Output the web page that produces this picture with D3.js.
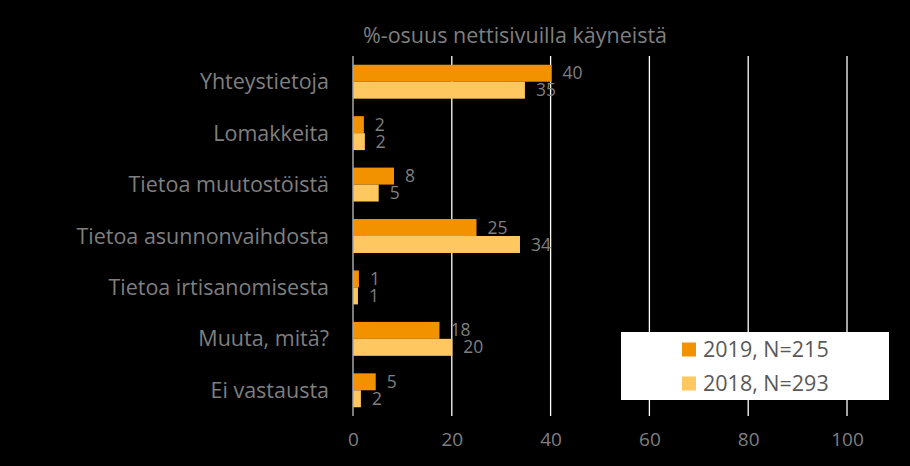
<!DOCTYPE html>
<html><head><meta charset="utf-8">
<script src="https://cdn.jsdelivr.net/npm/d3@7"></script>
<style>html,body{margin:0;padding:0;background:#000;}svg{display:block;}</style>
</head><body>
<svg id="chart" width="910" height="466"></svg>
<script>
const categories = ["Yhteystietoja","Lomakkeita","Tietoa muutostöistä","Tietoa asunnonvaihdosta","Tietoa irtisanomisesta","Muuta, mitä?","Ei vastausta"];
const series2019 = [40.2, 2.2, 8.3, 25.0, 1.2, 17.5, 4.6];
const series2018 = [34.8, 2.4, 5.2, 33.8, 1.0, 20.1, 1.6];
const seriesNames = ["2019, N=215", "2018, N=293"];
const xTicks = [0, 20, 40, 60, 80, 100];
const title = "%-osuus nettisivuilla käyneistä";

const colors = ["#F39200", "#FFC75F"];
const textColor = "#7f7f7f";
const font = "'Open Sans', sans-serif";

const svg = d3.select("#chart");
svg.append("rect").attr("width", 910).attr("height", 466).attr("fill", "#000");

const x = d3.scaleLinear().domain([0, 100]).range([353, 847]);
const y = d3.scaleBand().domain(categories).range([56, 416]).paddingInner(0.34).paddingOuter(0.17);
const sub = d3.scaleBand().domain([0, 1]).range([0, y.bandwidth()]);

// gridlines
svg.append("g").selectAll("line").data(xTicks.filter(t => t > 0)).join("line")
  .attr("x1", d => x(d)).attr("x2", d => x(d))
  .attr("y1", 56).attr("y2", 416)
  .attr("stroke", "#ffffff").attr("stroke-width", 1.3);

const seriesData = [series2019, series2018];
const groups = svg.append("g");
seriesData.forEach((vals, si) => {
  groups.append("g").selectAll("rect").data(vals).join("rect")
    .attr("x", x(0))
    .attr("y", (d, i) => y(categories[i]) + sub(si))
    .attr("width", d => x(d) - x(0))
    .attr("height", sub.bandwidth())
    .attr("fill", colors[si]);
  groups.append("g").selectAll("text").data(vals).join("text")
    .attr("x", d => x(d) + 11)
    .attr("y", (d, i) => y(categories[i]) + sub(si) + sub.bandwidth() / 2)
    .attr("dy", "0.35em")
    .attr("fill", textColor)
    .style("font-family", font).style("font-size", "17.5px")
    .text(d => d3.format(".0f")(d));
});

// zero axis line
svg.append("line").attr("x1", x(0)).attr("x2", x(0)).attr("y1", 56).attr("y2", 416)
  .attr("stroke", "#a6a6a6").attr("stroke-width", 1.5);

// category labels
svg.append("g").selectAll("text").data(categories).join("text")
  .attr("x", 329)
  .attr("y", d => y(d) + y.bandwidth() / 2)
  .attr("dy", "0.35em")
  .attr("text-anchor", "end")
  .attr("fill", textColor)
  .style("font-family", font).style("font-size", "21.5px")
  .text(d => d);

// x axis
const xAxis = d3.axisBottom(x).tickValues(xTicks).tickSize(0).tickPadding(0);
const ax = svg.append("g").attr("transform", "translate(0,432)").call(xAxis);
ax.select(".domain").remove();
ax.selectAll("text").attr("fill", textColor).style("font-family", font).style("font-size", "19px").attr("dy", "0.71em");

// title
svg.append("text").attr("x", 515).attr("y", 43).attr("text-anchor", "middle")
  .attr("fill", textColor).style("font-family", font).style("font-size", "21.5px")
  .text(title);

// legend
const lg = svg.append("g");
lg.append("rect").attr("x", 621).attr("y", 332).attr("width", 268).attr("height", 68).attr("fill", "#fff");
seriesNames.forEach((n, i) => {
  const cy = 349.5 + i * 34;
  lg.append("rect").attr("x", 682).attr("y", cy - 7).attr("width", 14).attr("height", 14).attr("fill", colors[i]);
  lg.append("text").attr("x", 703).attr("y", cy).attr("dy", "0.35em")
    .attr("fill", "#595959").style("font-family", font).style("font-size", "21.5px").text(n);
});
</script>
</body></html>
